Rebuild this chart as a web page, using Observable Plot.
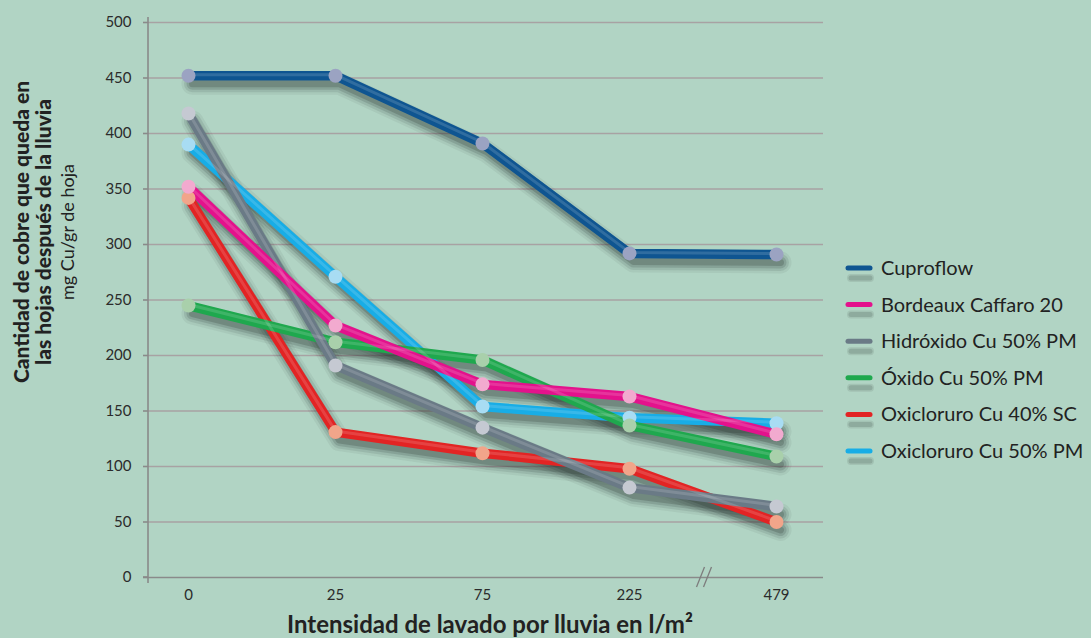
<!DOCTYPE html>
<html>
<head>
<meta charset="utf-8">
<script src="https://cdn.jsdelivr.net/npm/d3@7"></script>
<script src="https://cdn.jsdelivr.net/npm/@observablehq/plot@0.6"></script>
<style>
  html, body { margin: 0; padding: 0; background: #b1d4c4; }
  #chart { width: 1091px; height: 638px; overflow: hidden; }
  svg { font-family: Lato, "Open Sans", sans-serif; }
</style>
</head>
<body>
<div id="chart"></div>
<script>
// ---- data ----
const xLabels = ["0", "25", "75", "225", "479"];
const yTicks = [0, 50, 100, 150, 200, 250, 300, 350, 400, 450, 500];
const legendOrder = ["Cuproflow", "Bordeaux Caffaro 20", "Hidróxido Cu 50% PM", "Óxido Cu 50% PM", "Oxicloruro Cu 40% SC", "Oxicloruro Cu 50% PM"];
const cuproflow    = [452, 452, 391, 292, 291];
const bordeaux     = [352, 227, 174, 163, 129];
const hidroxido    = [418, 191, 135, 81, 64];
const oxido        = [245, 212, 196, 137, 109];
const oxicloruro40 = [342, 131, 112, 98, 50];
const oxicloruro50 = [390, 271, 154, 144, 139];
const xTitle = "Intensidad de lavado por lluvia en l/m²";
const yTitle1 = "Cantidad de cobre que queda en";
const yTitle2 = "las hojas después de la lluvia";
const yTitle3 = "mg Cu/gr de hoja";

// styles
const lineColors = {
  "Cuproflow": "#0f5591",
  "Bordeaux Caffaro 20": "#e3128c",
  "Hidróxido Cu 50% PM": "#6a7a86",
  "Óxido Cu 50% PM": "#1fa84e",
  "Oxicloruro Cu 40% SC": "#e22424",
  "Oxicloruro Cu 50% PM": "#18ade6"
};
const dotColors = {
  "Cuproflow": "#9ba3c2",
  "Bordeaux Caffaro 20": "#f2aacf",
  "Hidróxido Cu 50% PM": "#c5c9d2",
  "Óxido Cu 50% PM": "#a9d0ab",
  "Oxicloruro Cu 40% SC": "#f1a58a",
  "Oxicloruro Cu 50% PM": "#a8dcf3"
};

// draw order (bottom -> top)
const seriesDraw = [
  ["Oxicloruro Cu 50% PM", oxicloruro50],
  ["Oxicloruro Cu 40% SC", oxicloruro40],
  ["Óxido Cu 50% PM", oxido],
  ["Hidróxido Cu 50% PM", hidroxido],
  ["Bordeaux Caffaro 20", bordeaux],
  ["Cuproflow", cuproflow]
];
const data = seriesDraw.flatMap(([name, vals]) => vals.map((v, i) => ({series: name, x: xLabels[i], y: v})));

const lineOpts = {x: "x", y: "y", z: "series", strokeLinecap: "round", strokeLinejoin: "round"};
const shadowLayers = [[22, 0.06], [17, 0.10], [12, 0.15], [7, 0.2]].map(([w, o]) =>
  Plot.line(data, {...lineOpts, stroke: "#1e2a25", strokeOpacity: o, strokeWidth: w, dx: 4, dy: 8})
);

const W = 1091, H = 638;
const plot = Plot.plot({
  width: W, height: H,
  marginLeft: 148, marginRight: 268, marginTop: 22, marginBottom: 61,
  style: {background: "transparent", fontFamily: "Lato, sans-serif", color: "#2b2b2b"},
  x: {type: "point", domain: xLabels, range: [186, 777], padding: 0, label: null},
  y: {domain: [0, 500], ticks: yTicks, label: null},
  marks: [
    Plot.ruleY(yTicks.filter(d => d > 0), {stroke: "#a8a2a3", strokeWidth: 1.6}),
    Plot.ruleY([0], {stroke: "#8a8a8a", strokeWidth: 1.6}),
    Plot.axisY({ticks: yTicks, tickSize: 5, tickPadding: 12, fontSize: 15, stroke: "#8a8a8a", strokeWidth: 1.6, label: null}),
    Plot.axisX({tickSize: 0, tickPadding: 12, fontSize: 15, label: null}),
    ...shadowLayers,
    Plot.line(data, {...lineOpts, stroke: d => lineColors[d.series], strokeWidth: 9.5}),
    Plot.line(data, {...lineOpts, stroke: "#ffffff", strokeOpacity: 0.14, strokeWidth: 3, dy: -1}),
    Plot.dot(data, {x: "x", y: "y", r: 7, fill: d => dotColors[d.series], stroke: "none"})
  ]
});
document.getElementById("chart").appendChild(plot);

const svg = d3.select(plot);
const xs = plot.scale("x"), ys = plot.scale("y");

// y axis line
const axisX = 148;
svg.append("line").attr("x1", axisX).attr("x2", axisX)
  .attr("y1", ys.apply(500) - 5).attr("y2", ys.apply(0) + 6)
  .attr("stroke", "#8a8a8a").attr("stroke-width", 1.6);
svg.append("line").attr("x1", axisX - 5).attr("x2", axisX)
  .attr("y1", ys.apply(0)).attr("y2", ys.apply(0))
  .attr("stroke", "#8a8a8a").attr("stroke-width", 1.6);

// axis break
const xm = (xs.apply("225") + xs.apply("479")) / 2 + 4;
const y0 = ys.apply(0);
[-6, 1].forEach(o => {
  svg.append("line").attr("x1", xm + o - 4).attr("y1", y0 + 10).attr("x2", xm + o + 4).attr("y2", y0 - 10)
    .attr("stroke", "#7d7d7d").attr("stroke-width", 1.3);
});

// titles
svg.append("text").attr("x", 490).attr("y", 633).attr("text-anchor", "middle")
  .attr("font-size", 24).attr("font-weight", "bold").attr("fill", "#222").text(xTitle);
const yt = svg.append("g").attr("transform", "translate(0,232) rotate(-90)").attr("text-anchor", "middle").attr("fill", "#222");
yt.append("text").attr("x", 0).attr("y", 29).attr("font-size", 21).attr("font-weight", "900").text(yTitle1);
yt.append("text").attr("x", 0).attr("y", 51).attr("font-size", 21).attr("font-weight", "900").text(yTitle2);
yt.append("text").attr("x", 0).attr("y", 74).attr("font-size", 18).text(yTitle3);

// legend
const lg = svg.append("g").attr("text-anchor", "start");
legendOrder.forEach((name, i) => {
  const cy = 268 + i * 36.6;
  [[8, 0.12], [5, 0.2]].forEach(([w, o]) => {
    lg.append("line").attr("x1", 851).attr("x2", 870).attr("y1", cy + 10).attr("y2", cy + 10)
      .attr("stroke", "#3e4a44").attr("stroke-opacity", o).attr("stroke-width", w).attr("stroke-linecap", "round");
  });
  lg.append("line").attr("x1", 848).attr("x2", 870).attr("y1", cy).attr("y2", cy)
    .attr("stroke", lineColors[name]).attr("stroke-width", 5).attr("stroke-linecap", "round");
  lg.append("text").attr("x", 881).attr("y", cy).attr("dy", "0.35em")
    .attr("font-size", 20).attr("fill", "#222").text(name);
});
</script>
</body>
</html>
